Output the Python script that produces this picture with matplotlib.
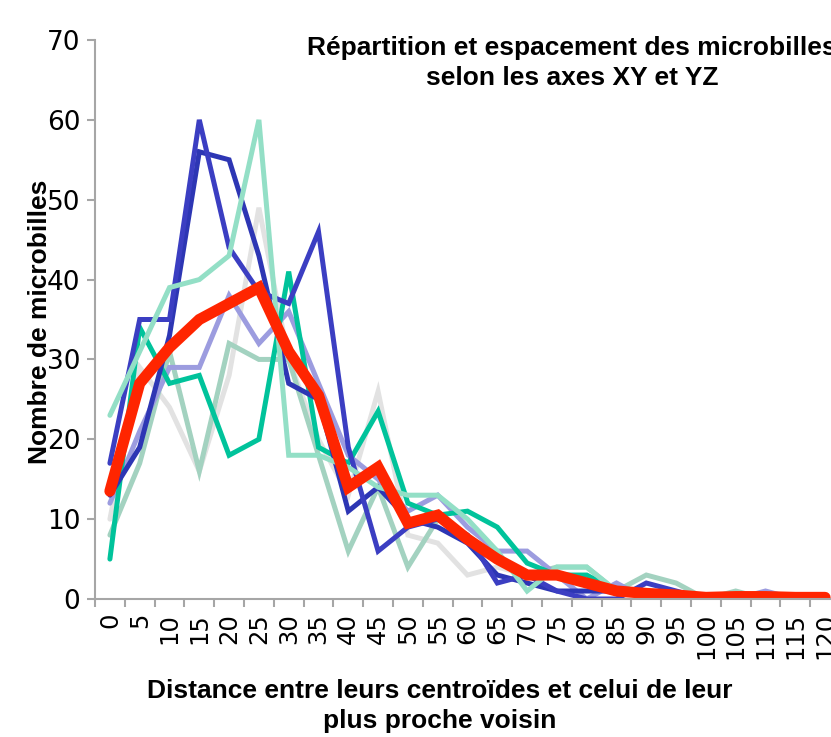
import numpy as np
import matplotlib
matplotlib.use("Agg")
import matplotlib.pyplot as plt

plt.rcParams['font.family'] = ['Liberation Sans', 'DejaVu Sans']

# distance categories
distances = [0, 5, 10, 15, 20, 25, 30, 35, 40, 45, 50, 55, 60, 65, 70, 75, 80,
             85, 90, 95, 100, 105, 110, 115, 120]

# counts per series
gris = [10, 29, 24, 16, 28, 49, 30, 20, 13, 26, 8, 7, 3, 4, 3, 3, 2, 1, 1, 0.5, 0, 0, 0, 0, 0]
vert_gris = [8, 17, 31, 16, 32, 30, 30, 18, 6, 14, 4, 10, 8, 5, 3, 4, 4, 1, 3, 2, 0, 1, 0, 0, 0]
lavande = [12, 21, 29, 29, 38, 32, 36, 27, 18, 15, 11, 13, 9, 6, 6, 3, 0, 2, 0, 0, 0, 0, 1, 0, 0]
turquoise = [5, 34, 27, 28, 18, 20, 41, 19, 17, 23.5, 12, 10.5, 11, 9, 4.5, 3, 3, 1, 1, 0.5, 0, 0, 0, 0, 0]
bleu_b = [13, 19, 33, 56, 55, 43, 27, 25, 11, 14, 10, 9, 7, 3, 2, 1, 1, 1, 1, 0, 0, 0, 0, 0, 0]
bleu_a = [17, 35, 35, 60, 44, 38.5, 37, 46, 19, 6, 9, 10, 8, 2, 3, 1, 0, 0, 2, 1, 0, 0, 0, 0, 0]
menthe = [23, 31, 39, 40, 43, 60, 18, 18, 16.5, 14, 13, 13, 10, 6, 1, 4, 4, 1, 1, 0.5, 0, 0, 0, 0, 0]
moyenne = [13.5, 27, 31.5, 35, 37, 39, 31, 25.5, 14, 16.5, 9.5, 10.5, 7.5, 5, 3, 3, 2, 1,
           0.7, 0.5, 0.2, 0.3, 0.3, 0.2, 0.2]

series = [
    (gris, '#E2E2E2', 3.6),
    (vert_gris, '#A3D2C0', 3.6),
    (lavande, '#9C9CDF', 3.6),
    (turquoise, '#00C39B', 3.6),
    (bleu_b, '#2D36B4', 3.6),
    (bleu_a, '#3B3EC2', 3.6),
    (menthe, '#93DFC6', 3.6),
    (moyenne, '#FF2500', 8.0),
]

fig = plt.figure(figsize=(8.31, 7.37), dpi=100)
ax = fig.add_axes([95 / 831, 138 / 737, 745 / 831, 559 / 737])

x = np.arange(len(distances))
for vals, col, lw in series:
    ax.plot(x, vals, color=col, lw=lw, solid_joinstyle='miter', solid_capstyle='round')

ax.set_xlim(-0.5, len(distances) - 0.5)
ax.set_ylim(0, 70)
ax.set_yticks(range(0, 71, 10))
ax.set_yticklabels([str(v) for v in range(0, 71, 10)], family='DejaVu Sans', fontsize=19)
ax.tick_params(axis='y', length=5.5, width=1.5, color='#A6A6A6', pad=5)

ax.set_xticks(x)
ax.set_xticklabels([str(d) for d in distances], rotation=90, va='top',
                   family='DejaVu Sans', fontsize=17.5)
ax.set_xticks(np.arange(-0.5, len(distances), 1), minor=True)
ax.tick_params(axis='x', which='major', length=0, pad=10)
ax.tick_params(axis='x', which='minor', length=5.5, width=1.5, color='#A6A6A6')

for s in ['top', 'right']:
    ax.spines[s].set_visible(False)
for s in ['left', 'bottom']:
    ax.spines[s].set_color('#A6A6A6')
    ax.spines[s].set_linewidth(1.5)

narrow = ['Liberation Sans Narrow', 'Liberation Sans', 'DejaVu Sans']
fig.text(40 / 831, 1 - 322 / 737, 'Nombre de microbilles', rotation=90, ha='center',
         va='center', fontsize=19, fontweight='bold', family=narrow)
fig.text(440 / 831, 1 - 706 / 737,
         'Distance entre leurs centroïdes et celui de leur\nplus proche voisin',
         ha='center', va='center', fontsize=19, fontweight='bold', family=narrow,
         linespacing=1.3)
fig.text(572 / 831, 1 - 36 / 737,
         'Répartition et espacement des microbilles\nselon les axes XY et YZ',
         ha='center', va='top', fontsize=19, fontweight='bold', linespacing=1.3)

fig.savefig('out.png', dpi=100)
